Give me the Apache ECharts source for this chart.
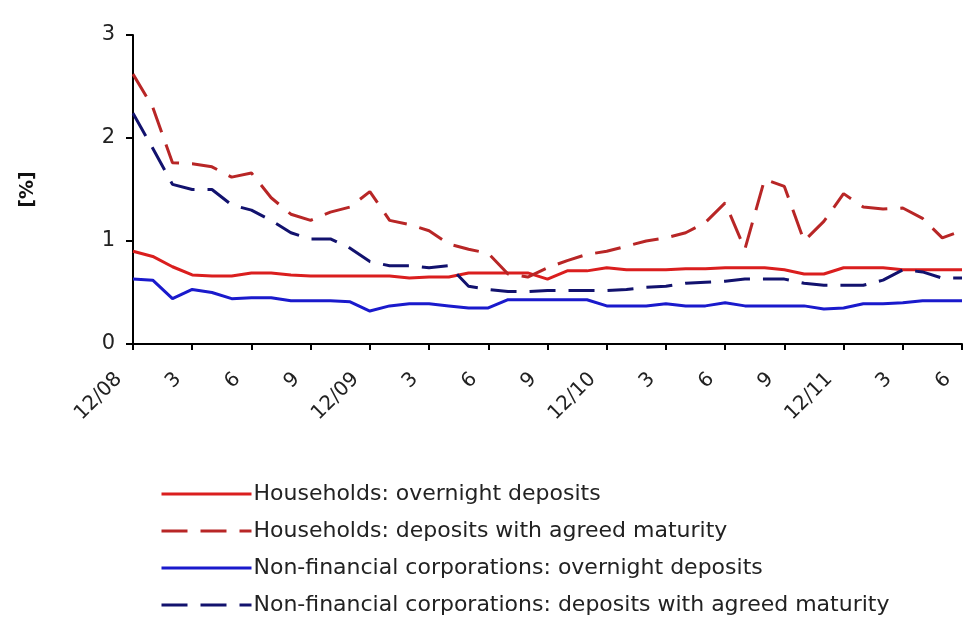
<!DOCTYPE html>
<html>
<head>
<meta charset="utf-8">
<script src="https://cdn.jsdelivr.net/npm/echarts@6/dist/echarts.min.js"></script>
<style>
  html, body { margin: 0; padding: 0; background: #fff; }
  #chart { width: 964px; height: 623px; }
</style>
</head>
<body>
<div id="chart"></div>
<script>
// months Dec 2008 .. Jun 2012
const months = ['12/08', '1', '2', '3', '4', '5', '6', '7', '8', '9', '10', '11',
  '12/09', '1', '2', '3', '4', '5', '6', '7', '8', '9', '10', '11',
  '12/10', '1', '2', '3', '4', '5', '6', '7', '8', '9', '10', '11',
  '12/11', '1', '2', '3', '4', '5', '6'];

const hhOvernight = [0.90, 0.85, 0.75, 0.67, 0.66, 0.66, 0.69, 0.69, 0.67, 0.66, 0.66, 0.66,
  0.66, 0.66, 0.64, 0.65, 0.65, 0.69, 0.69, 0.69, 0.69, 0.63, 0.71, 0.71,
  0.74, 0.72, 0.72, 0.72, 0.73, 0.73, 0.74, 0.74, 0.74, 0.72, 0.68, 0.68,
  0.74, 0.74, 0.74, 0.72, 0.72, 0.72, 0.72];

const hhAgreed = [2.62, 2.30, 1.76, 1.75, 1.72, 1.62, 1.66, 1.42, 1.26, 1.20, 1.28, 1.33,
  1.48, 1.20, 1.16, 1.10, 0.97, 0.92, 0.88, 0.68, 0.65, 0.74, 0.81, 0.87,
  0.90, 0.95, 1.00, 1.03, 1.08, 1.18, 1.37, 0.92, 1.60, 1.53, 1.00, 1.19,
  1.46, 1.33, 1.31, 1.32, 1.22, 1.03, 1.10];

const nfcOvernight = [0.63, 0.62, 0.44, 0.53, 0.50, 0.44, 0.45, 0.45, 0.42, 0.42, 0.42, 0.41,
  0.32, 0.37, 0.39, 0.39, 0.37, 0.35, 0.35, 0.43, 0.43, 0.43, 0.43, 0.43,
  0.37, 0.37, 0.37, 0.39, 0.37, 0.37, 0.40, 0.37, 0.37, 0.37, 0.37, 0.34,
  0.35, 0.39, 0.39, 0.40, 0.42, 0.42, 0.42];

const nfcAgreed = [2.24, 1.90, 1.55, 1.50, 1.50, 1.35, 1.30, 1.20, 1.08, 1.02, 1.02, 0.93,
  0.80, 0.76, 0.76, 0.74, 0.76, 0.56, 0.53, 0.51, 0.51, 0.52, 0.52, 0.52,
  0.52, 0.53, 0.55, 0.56, 0.59, 0.60, 0.61, 0.63, 0.63, 0.63, 0.59, 0.57,
  0.57, 0.57, 0.62, 0.72, 0.70, 0.64, 0.64];

const seriesNames = [
  'Households: overnight deposits',
  'Households: deposits with agreed maturity',
  'Non-financial corporations: overnight deposits',
  'Non-financial corporations: deposits with agreed maturity'
];

const chart = echarts.init(document.getElementById('chart'));

function line(name, data, color, dashed) {
  return {
    name: name,
    type: 'line',
    data: data,
    symbol: 'none',
    smooth: false,
    lineStyle: { color: color, width: 3, type: dashed ? [26, 13] : 'solid' },
    itemStyle: { color: color }
  };
}

const font = 'DejaVu Sans, Verdana, sans-serif';

const option = {
  animation: false,
  textStyle: { fontFamily: font },
  grid: { left: 133, right: 2, top: 35, bottom: 279 },
  xAxis: {
    type: 'category',
    data: months,
    boundaryGap: false,
    axisLine: { lineStyle: { color: '#000', width: 2 } },
    axisTick: { interval: 2, length: 6, lineStyle: { color: '#000', width: 2 } },
    axisLabel: {
      interval: 2, rotate: 45, fontSize: 20, color: '#222',
      margin: 18, padding: [0, 20, 0, 0], fontFamily: font
    }
  },
  yAxis: {
    type: 'value',
    min: 0,
    max: 3,
    interval: 1,
    name: '[%]',
    nameLocation: 'middle',
    nameRotate: 90,
    nameGap: 95,
    nameTextStyle: { fontSize: 19, fontWeight: 'bold', color: '#111', fontFamily: font },
    splitLine: { show: false },
    axisLine: { show: true, lineStyle: { color: '#000', width: 2 } },
    axisTick: { show: true, length: 7, lineStyle: { color: '#000', width: 2 } },
    axisLabel: { fontSize: 21, color: '#222', margin: 18, fontFamily: font }
  },
  legend: {
    orient: 'vertical',
    left: 155,
    top: 478,
    bottom: 0,
    itemWidth: 90,
    itemHeight: 14,
    itemGap: 15,
    itemStyle: { opacity: 0 },
    lineStyle: { width: 3 },
    textStyle: { fontSize: 22, color: '#222', padding: [0, 0, 0, -3], fontFamily: font },
    data: seriesNames
  },
  series: [
    line(seriesNames[0], hhOvernight, '#da1e1e', false),
    line(seriesNames[1], hhAgreed, '#b82626', true),
    line(seriesNames[2], nfcOvernight, '#1a1acc', false),
    line(seriesNames[3], nfcAgreed, '#12126e', true)
  ]
};

chart.setOption(option);
</script>
</body>
</html>
